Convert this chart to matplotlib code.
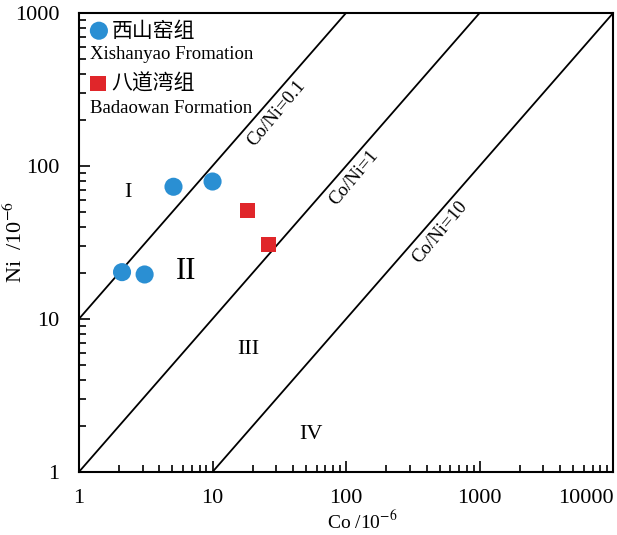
import matplotlib
matplotlib.use("Agg")
import matplotlib.pyplot as plt
from matplotlib.ticker import LogLocator, NullFormatter, FixedLocator

plt.rcParams['font.family'] = ['Liberation Serif', 'Noto Sans CJK SC']
plt.rcParams['mathtext.fontset'] = 'stix'

# data
xsy_co = [2.1, 3.1, 5.1, 10.0]
xsy_ni = [20.2, 19.5, 73, 79]
bdw_co = [18.3, 26.3]
bdw_ni = [51, 30.5]

ratios = [0.1, 1, 10]
ratio_labels = ["Co/Ni=0.1", "Co/Ni=1", "Co/Ni=10"]
xticks = [1, 10, 100, 1000, 10000]
yticks = [1, 10, 100, 1000]

fig = plt.figure(figsize=(6.17, 5.35), dpi=100)
ax = fig.add_axes([0.128, 0.118, 0.866, 0.858])
ax.set_xscale("log")
ax.set_yscale("log")
ax.set_xlim(1, 10000)
ax.set_ylim(1, 1000)

# Co/Ni lines : Ni = Co / r
for r in ratios:
    xs = [1, 100000]
    ax.plot(xs, [x / r for x in xs], color="black", lw=1.3, zorder=2)

blue = "#2a8fd3"
red = "#e0262a"
ax.scatter(xsy_co, xsy_ni, s=170, color=blue, zorder=3, edgecolors="none")
ax.scatter(bdw_co, bdw_ni, s=120, marker="s", color=red, zorder=3, edgecolors="none")

# line labels
ax.text(30, 220, ratio_labels[0], rotation=50, fontsize=13.5, ha="center", va="center")
ax.text(115, 83, ratio_labels[1], rotation=50, fontsize=13.5, ha="center", va="center")
ax.text(506, 37, ratio_labels[2], rotation=50, fontsize=13.5, ha="center", va="center")

# field labels
ax.text(2.33, 67, "I", fontsize=16, ha="center", va="center")
ax.text(6.3, 20.3, "II", fontsize=22, ha="center", va="center")
ax.text(18.5, 6.3, "III", fontsize=16, ha="center", va="center")
ax.text(54.7, 1.75, "IV", fontsize=16, ha="center", va="center")

# legend drawn by hand
ax.scatter([1.41], [764], s=170, color=blue, edgecolors="none", zorder=3)
ax.text(1.75, 764, "西山窑组", fontsize=15, va="center", family=['Noto Sans CJK SC'])
ax.text(1.2, 535, "Xishanyao Fromation", fontsize=13.5, va="center")
ax.scatter([1.39], [345], s=120, marker="s", color=red, edgecolors="none", zorder=3)
ax.text(1.75, 345, "八道湾组", fontsize=15, va="center", family=['Noto Sans CJK SC'])
ax.text(1.2, 237, "Badaowan Formation", fontsize=13.5, va="center")

ax.xaxis.set_major_locator(FixedLocator(xticks))
ax.yaxis.set_major_locator(FixedLocator(yticks))
ax.set_xticklabels([str(v) for v in xticks])
ax.set_yticklabels([str(v) for v in yticks])
ax.get_xticklabels()[-1].set_horizontalalignment("right")
ax.xaxis.set_minor_locator(LogLocator(base=10, subs=range(2, 10)))
ax.yaxis.set_minor_locator(LogLocator(base=10, subs=range(2, 10)))
ax.xaxis.set_minor_formatter(NullFormatter())
ax.yaxis.set_minor_formatter(NullFormatter())
ax.tick_params(which="both", direction="in", labelsize=16, width=1.2)
ax.tick_params(which="major", length=8)
ax.tick_params(axis="x", which="major", pad=12)
ax.tick_params(axis="y", which="major", pad=14)
ax.tick_params(which="minor", length=5)
for s in ax.spines.values():
    s.set_linewidth(1.5)

ax.set_xlabel("Co /10$^{-6}$", fontsize=14)
ax.set_ylabel("Ni  /10$^{-6}$", fontsize=16)
ax.xaxis.set_label_coords(0.53, -0.084)
ax.yaxis.set_label_coords(-0.098, 0.5)

fig.savefig("out.png", dpi=100)
